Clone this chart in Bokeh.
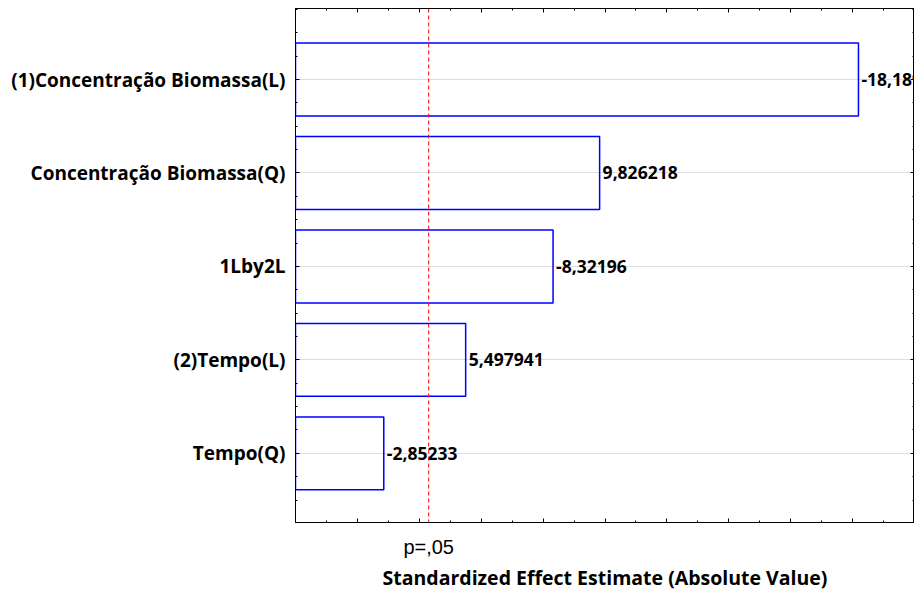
from bokeh.plotting import figure
from bokeh.models import (ColumnDataSource, FixedTicker, LinearAxis, Span, Range1d,
                          CustomLabelingPolicy)
from bokeh.core.properties import value
from bokeh.embed import file_html
from bokeh.resources import INLINE

# Pareto chart of standardized effects
effects = ["(1)Concentração Biomassa(L)", "Concentração Biomassa(Q)", "1Lby2L",
           "(2)Tempo(L)", "Tempo(Q)"]
estimates = [-18.1895, 9.826218, -8.32196, 5.497941, -2.85233]
estimate_labels = ["-18,1895", "9,826218", "-8,32196", "5,497941", "-2,85233"]
p_critical = 4.303
p_label = "p=,05"

n = len(effects)
ypos = [n - i for i in range(n)]
src = ColumnDataSource(dict(
    y=ypos,
    right=[abs(v) for v in estimates],
    label=estimate_labels,
))

FONT = "Open Sans"


def no_labels():
    # tick marks only, every label filtered out
    return CustomLabelingPolicy(code="""
        for (const i of Array.from(indices)) indices.unset(i)
        return indices
    """)


def tick_only(axis, ticker, ticks):
    axis.ticker = ticker
    axis.major_label_policy = no_labels()
    axis.major_label_overrides = {t: "" for t in ticks}
    axis.major_label_text_font_size = "1px"
    axis.major_label_standoff = 0
    axis.major_tick_in = 4
    axis.major_tick_out = 0
    axis.minor_tick_in = 2
    axis.minor_tick_out = 0
    axis.axis_line_color = "black"


p = figure(width=914, height=597, output_backend="svg", toolbar_location=None,
           x_range=Range1d(0, 20), y_range=Range1d(0.26, 5.76),
           min_border_left=295, min_border_right=0, min_border_top=8,
           min_border_bottom=75)
p.outline_line_color = "black"
p.outline_line_width = 1
p.background_fill_color = "white"

p.hbar(y="y", left=0, right="right", height=0.78, source=src,
       fill_alpha=0, line_color="#0000ff", line_width=1.5)

p.text(x="right", y="y", text="label", source=src, x_offset=3,
       text_font=value(FONT), text_font_style="bold", text_font_size="17.5px",
       text_baseline="middle", text_align="left", text_color="black")

p.add_layout(Span(location=p_critical, dimension="height", line_color="red",
                  line_dash="4 3", line_width=1))

# grid only along the effect rows
p.xgrid.visible = False
p.ygrid.ticker = FixedTicker(ticks=ypos)
p.ygrid.grid_line_color = "#bcbcbc"
p.ygrid.grid_line_dash = "1 1"

x_major = list(range(0, 21, 2))
y_minor = [0.25 * k for k in range(0, 25)]
xticks = FixedTicker(ticks=x_major, minor_ticks=list(range(0, 21)))
yticks = FixedTicker(ticks=ypos, minor_ticks=y_minor)

# bottom axis: ticks only
tick_only(p.xaxis[0], xticks, x_major)

# left axis with effect names
yl = p.yaxis[0]
yl.ticker = yticks
yl.major_label_overrides = {y: name for y, name in zip(ypos, effects)}
yl.major_label_text_font = FONT
yl.major_label_text_font_style = "bold"
yl.major_label_text_font_size = "19px"
yl.major_label_text_color = "black"
yl.major_label_standoff = 10
yl.major_tick_in = 4
yl.major_tick_out = 0
yl.minor_tick_in = 2
yl.minor_tick_out = 0

# mirrored axes on top and right
xt = LinearAxis()
tick_only(xt, xticks, x_major)
p.add_layout(xt, "above")
yr = LinearAxis()
tick_only(yr, yticks, ypos)
p.add_layout(yr, "right")

# critical value label and axis title
xp = LinearAxis(ticker=FixedTicker(ticks=[p_critical]),
                major_label_overrides={p_critical: p_label},
                major_label_text_font="Liberation Sans",
                major_label_text_font_size="20px",
                major_label_text_color="black",
                major_label_standoff=13,
                major_tick_in=0, major_tick_out=0, minor_tick_in=0, minor_tick_out=0,
                axis_line_color=None,
                axis_label="Standardized Effect Estimate (Absolute Value)",
                axis_label_text_font=FONT,
                axis_label_text_font_style="bold",
                axis_label_text_font_size="19.5px",
                axis_label_text_color="black",
                axis_label_standoff=3)
p.add_layout(xp, "below")

open("out.html", "w").write(file_html(p, INLINE))
